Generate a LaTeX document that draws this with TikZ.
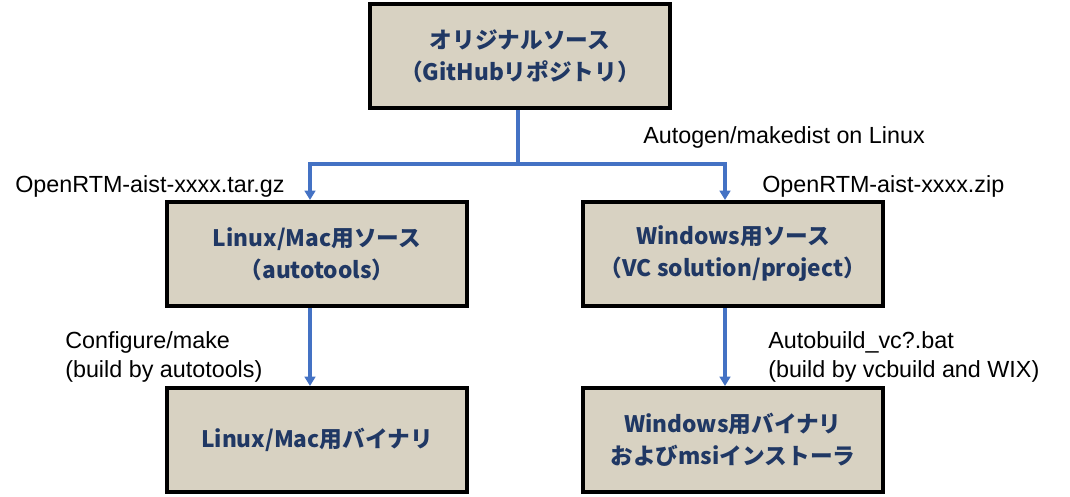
\documentclass[tikz,border=0pt]{standalone}
\usepackage{fontspec}
\setmainfont{Liberation Sans}
\newfontfamily\cjk{Noto Sans CJK JP}
\usetikzlibrary{arrows.meta}
\definecolor{boxfill}{HTML}{D8D2C2}
\definecolor{navy}{HTML}{203864}
\definecolor{lineblue}{HTML}{4472C4}
\begin{document}
\begin{tikzpicture}[x=0.75pt,y=-0.75pt,
  box/.style={draw=black,line width=3pt,fill=boxfill,minimum width=300*0.75pt,minimum height=104*0.75pt,
    align=center,font=\cjk\bfseries\fontsize{17}{24}\selectfont,text=navy,inner sep=0pt},
  conn/.style={draw=lineblue,line width=2.6pt},
  arr/.style={conn,-{Triangle[width=8pt,length=7pt]}},
  lbl/.style={font=\fontsize{17.5}{22}\selectfont,align=left,inner sep=0pt}]
\useasboundingbox (0,0) rectangle (1070,496);
\node[box] (top) at (520,56) {オリジナルソース\\（GitHubリポジトリ）};
\node[box] (lm) at (317,254) {Linux/Mac用ソース\\（autotools）};
\node[box] (w) at (733,254) {Windows用ソース\\（VC solution/project）};
\node[box] (lb) at (317,440) {Linux/Mac用バイナリ};
\node[box] (wb) at (733,440) {Windows用バイナリ\\およびmsiインストーラ};
\coordinate (j) at (518,164);
\coordinate (jl) at (310,164);
\coordinate (jr) at (725,164);
\draw[conn] (top.south -| j) -- (j);
\draw[arr] (j) -- (jl) -- (jl |- lm.north);
\draw[arr] (j) -- (jr) -- (jr |- w.north);
\draw[arr] (lm.south -| jl) -- (jl |- lb.north);
\draw[arr] (w.south -| jr) -- (jr |- wb.north);
\node[lbl,anchor=west] (a) at (643,137) {Autogen/makedist on Linux};
\node[lbl,anchor=west] (b) at (15,186) {OpenRTM-aist-xxxx.tar.gz};
\node[lbl,anchor=west] (c) at (762,186) {OpenRTM-aist-xxxx.zip};
\node[lbl,anchor=west] (d) at (65,357) {Configure/make\\(build by autotools)};
\node[lbl,anchor=west] (e) at (768,357) {Autobuild\_vc?.bat\\(build by vcbuild and WIX)};
\end{tikzpicture}
\end{document}
